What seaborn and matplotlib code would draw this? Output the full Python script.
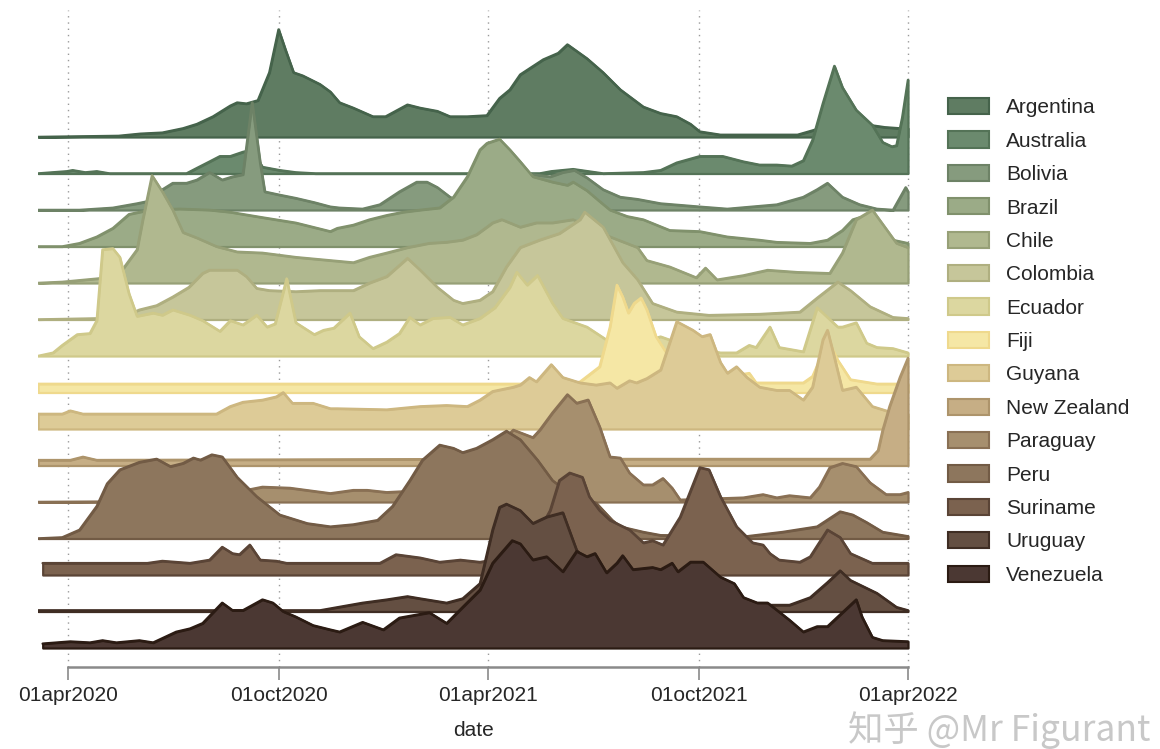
import numpy as np
import pandas as pd
import matplotlib
matplotlib.use("Agg")
import matplotlib.pyplot as plt
import matplotlib.dates as mdates
from matplotlib.patches import Patch
import seaborn as sns

# ---------------------------------------------------------------------------
# Smoothed daily new cases, each country scaled to its own peak (= 100)
# ---------------------------------------------------------------------------
countries = ["Argentina", "Australia", "Bolivia", "Brazil", "Chile", "Colombia",
             "Ecuador", "Fiji", "Guyana", "New Zealand", "Paraguay", "Peru",
             "Suriname", "Uruguay", "Venezuela"]

argentina_dates = ["2020-03-06", "2020-05-15", "2020-06-03", "2020-06-22", "2020-07-10", "2020-07-22",
                   "2020-08-05", "2020-08-20", "2020-08-26", "2020-09-03", "2020-09-13", "2020-09-23",
                   "2020-10-01", "2020-10-07", "2020-10-14", "2020-10-22", "2020-11-06", "2020-11-15",
                   "2020-11-23", "2020-12-05", "2020-12-22", "2021-01-02", "2021-01-21", "2021-02-01",
                   "2021-02-16", "2021-02-27", "2021-03-14", "2021-03-31", "2021-04-11", "2021-04-20",
                   "2021-04-29", "2021-05-19", "2021-06-01", "2021-06-09", "2021-06-26", "2021-07-10",
                   "2021-07-25", "2021-08-14", "2021-08-29", "2021-09-12", "2021-09-24", "2021-10-02",
                   "2021-10-20", "2021-12-26", "2022-01-08", "2022-01-23", "2022-02-10", "2022-02-27",
                   "2022-03-12", "2022-03-25", "2022-04-01"]
argentina_share = [0, 1, 3, 4, 8, 12, 19, 29, 32, 31, 34, 60, 100, 81, 60, 57, 49, 42, 32, 27, 19, 19,
                   30, 27, 24, 19, 19, 20, 36, 44, 58, 72, 78, 86, 73, 60, 44, 28, 22, 19, 12, 5, 2, 2,
                   6, 11, 13, 11, 9, 8, 8]

australia_dates = ["2020-03-06", "2020-03-31", "2020-04-05", "2020-04-16", "2020-04-26", "2020-05-07",
                   "2020-07-13", "2020-07-22", "2020-08-02", "2020-08-11", "2020-08-20", "2020-08-31",
                   "2020-09-08", "2020-09-17", "2020-10-02", "2020-10-16", "2020-11-02", "2021-05-16",
                   "2021-05-26", "2021-06-14", "2021-07-10", "2021-08-14", "2021-08-29", "2021-09-12",
                   "2021-10-02", "2021-10-22", "2021-11-09", "2021-11-23", "2021-12-08", "2021-12-21",
                   "2021-12-31", "2022-01-08", "2022-01-17", "2022-01-27", "2022-02-03", "2022-02-15",
                   "2022-03-01", "2022-03-10", "2022-03-18", "2022-03-22", "2022-03-27", "2022-04-01"]
australia_share = [0, 2, 3, 1, 2, 0, 0, 5, 11, 16, 16, 20, 22, 6, 3, 1, 0, 0, 2, 4, 0, 1, 3, 10, 16,
                   16, 11, 8, 8, 7, 12, 31, 65, 100, 80, 59, 45, 29, 25, 26, 52, 87]

bolivia_dates = ["2020-03-06", "2020-04-11", "2020-05-10", "2020-05-31", "2020-06-09", "2020-06-22",
                 "2020-07-01", "2020-07-13", "2020-07-22", "2020-08-02", "2020-08-13", "2020-08-22",
                 "2020-08-31", "2020-09-08", "2020-09-15", "2020-09-19", "2020-10-02", "2020-10-16",
                 "2020-11-01", "2020-11-15", "2020-11-23", "2020-12-13", "2020-12-28", "2021-01-14",
                 "2021-01-29", "2021-02-07", "2021-02-16", "2021-02-27", "2021-03-08", "2021-03-25",
                 "2021-04-11", "2021-04-29", "2021-05-10", "2021-05-25", "2021-06-05", "2021-06-15",
                 "2021-06-26", "2021-07-10", "2021-07-25", "2021-08-09", "2021-08-29", "2021-10-02",
                 "2021-10-26", "2021-12-08", "2021-12-31", "2022-01-12", "2022-01-21", "2022-02-03",
                 "2022-02-18", "2022-03-05", "2022-03-19", "2022-03-30", "2022-04-01"]
bolivia_share = [0, 0, 2, 6, 8, 19, 25, 25, 28, 35, 28, 31, 33, 100, 44, 17, 14, 11, 7, 3, 2, 1, 5, 17,
                 26, 26, 21, 12, 7, 8, 12, 25, 33, 31, 35, 37, 30, 19, 12, 10, 6, 3, 1, 5, 12, 19, 25,
                 12, 5, 1, 0, 21, 17]

brazil_dates = ["2020-03-06", "2020-03-27", "2020-04-11", "2020-04-26", "2020-05-10", "2020-05-24",
                "2020-06-11", "2020-07-07", "2020-08-02", "2020-08-20", "2020-09-17", "2020-10-16",
                "2020-11-15", "2020-11-21", "2020-12-05", "2020-12-19", "2021-01-03", "2021-01-17",
                "2021-02-01", "2021-02-18", "2021-03-02", "2021-03-14", "2021-03-25", "2021-03-31",
                "2021-04-11", "2021-04-20", "2021-04-29", "2021-05-10", "2021-05-27", "2021-06-09",
                "2021-06-14", "2021-06-26", "2021-07-07", "2021-07-16", "2021-07-31", "2021-08-14",
                "2021-09-06", "2021-10-02", "2021-10-26", "2021-11-23", "2021-12-08", "2022-01-06",
                "2022-01-21", "2022-02-03", "2022-02-12", "2022-02-18", "2022-02-27", "2022-03-08",
                "2022-03-19", "2022-04-01"]
brazil_share = [0, 0, 3, 9, 17, 30, 34, 35, 34, 32, 27, 22, 14, 17, 20, 25, 29, 32, 34, 36, 46, 65, 90,
                96, 100, 90, 79, 65, 60, 57, 60, 52, 42, 34, 28, 25, 15, 14, 9, 6, 4, 3, 6, 15, 25, 27,
                20, 11, 6, 3]

chile_dates = ["2020-03-06", "2020-03-27", "2020-04-26", "2020-05-13", "2020-05-18", "2020-05-31",
               "2020-06-05", "2020-06-13", "2020-06-22", "2020-07-01", "2020-07-10", "2020-07-22",
               "2020-08-08", "2020-08-26", "2020-09-17", "2020-10-16", "2020-11-15", "2020-12-05",
               "2020-12-19", "2021-01-03", "2021-01-21", "2021-02-09", "2021-02-24", "2021-03-10",
               "2021-03-22", "2021-03-31", "2021-04-05", "2021-04-13", "2021-04-29", "2021-05-13",
               "2021-05-27", "2021-06-14", "2021-06-28", "2021-07-16", "2021-08-09", "2021-08-17",
               "2021-09-06", "2021-09-29", "2021-10-07", "2021-10-17", "2021-11-09", "2021-11-30",
               "2021-12-26", "2022-01-23", "2022-02-03", "2022-02-15", "2022-03-01", "2022-03-22",
               "2022-04-01"]
chile_share = [0, 1, 4, 6, 12, 31, 59, 100, 85, 68, 47, 42, 34, 29, 28, 24, 21, 19, 24, 28, 33, 37, 38,
               40, 45, 52, 56, 59, 52, 56, 56, 59, 52, 43, 33, 21, 15, 5, 14, 3, 7, 12, 10, 9, 28, 59,
               68, 37, 33]

colombia_dates = ["2020-03-06", "2020-04-26", "2020-05-22", "2020-06-02", "2020-06-17", "2020-07-01",
                  "2020-07-15", "2020-07-27", "2020-08-02", "2020-08-26", "2020-09-03", "2020-09-12",
                  "2020-09-23", "2020-10-16", "2020-11-06", "2020-12-05", "2020-12-19", "2021-01-03",
                  "2021-01-21", "2021-02-01", "2021-02-16", "2021-03-02", "2021-03-10", "2021-03-25",
                  "2021-04-05", "2021-04-17", "2021-04-29", "2021-05-16", "2021-06-02", "2021-06-20",
                  "2021-06-24", "2021-07-10", "2021-07-27", "2021-08-09", "2021-08-22", "2021-09-12",
                  "2021-10-10", "2021-11-23", "2021-12-28", "2022-01-12", "2022-01-30", "2022-02-10",
                  "2022-02-27", "2022-03-19", "2022-04-01"]
colombia_share = [0, 1, 4, 9, 13, 21, 30, 43, 46, 46, 40, 29, 27, 26, 27, 27, 34, 40, 57, 46, 30, 18,
                  15, 18, 26, 49, 67, 74, 80, 93, 100, 86, 53, 37, 15, 7, 4, 5, 7, 20, 35, 27, 12, 2, 1]

ecuador_dates = ["2020-03-06", "2020-03-19", "2020-03-27", "2020-04-09", "2020-04-20", "2020-04-26",
                 "2020-05-01", "2020-05-10", "2020-05-16", "2020-05-24", "2020-05-31", "2020-06-14",
                 "2020-06-22", "2020-07-01", "2020-07-16", "2020-07-27", "2020-08-11", "2020-08-20",
                 "2020-08-31", "2020-09-12", "2020-09-21", "2020-09-28", "2020-10-08", "2020-10-16",
                 "2020-11-01", "2020-11-09", "2020-11-18", "2020-12-02", "2020-12-10", "2020-12-22",
                 "2021-01-03", "2021-01-14", "2021-01-23", "2021-02-01", "2021-02-12", "2021-02-27",
                 "2021-03-10", "2021-03-25", "2021-04-07", "2021-04-20", "2021-04-26", "2021-05-05",
                 "2021-05-14", "2021-05-27", "2021-06-05", "2021-06-26", "2021-07-13", "2021-08-10",
                 "2021-08-29", "2021-09-24", "2021-10-20", "2021-11-03", "2021-11-14", "2021-11-20",
                 "2021-12-02", "2021-12-10", "2021-12-31", "2022-01-12", "2022-01-30", "2022-02-03",
                 "2022-02-15", "2022-02-24", "2022-03-05", "2022-03-19", "2022-04-01"]
ecuador_share = [0, 3, 10, 20, 21, 33, 99, 100, 92, 58, 37, 40, 38, 43, 38, 33, 23, 33, 29, 38, 27, 30,
                 72, 31, 20, 24, 26, 40, 18, 7, 13, 21, 36, 29, 35, 36, 29, 35, 45, 64, 78, 66, 75, 49,
                 35, 27, 15, 12, 18, 8, 3, 3, 10, 8, 27, 8, 4, 45, 27, 27, 31, 12, 8, 7, 3]

fiji_dates = ["2020-03-06", "2021-06-11", "2021-06-20", "2021-07-07", "2021-07-16", "2021-07-22",
              "2021-07-27", "2021-08-01", "2021-08-06", "2021-08-12", "2021-08-17", "2021-08-25",
              "2021-09-03", "2021-09-12", "2021-10-10", "2021-11-14", "2021-11-20", "2021-12-31",
              "2022-01-08", "2022-01-17", "2022-01-21", "2022-01-30", "2022-02-10", "2022-03-05",
              "2022-04-01"]
fiji_share = [8, 8, 10, 24, 61, 100, 89, 74, 83, 88, 77, 52, 37, 24, 12, 18, 9, 9, 15, 37, 50, 30, 12,
              8, 8]

guyana_dates = ["2020-03-06", "2020-03-27", "2020-04-03", "2020-04-14", "2020-08-08", "2020-08-20",
                "2020-08-31", "2020-09-17", "2020-09-29", "2020-10-05", "2020-10-13", "2020-10-31",
                "2020-11-15", "2020-11-21", "2021-01-03", "2021-02-01", "2021-02-24", "2021-03-14",
                "2021-03-25", "2021-04-05", "2021-04-23", "2021-04-29", "2021-05-07", "2021-05-13",
                "2021-05-26", "2021-06-05", "2021-06-20", "2021-07-04", "2021-07-16", "2021-07-22",
                "2021-08-02", "2021-08-08", "2021-08-17", "2021-08-29", "2021-09-12", "2021-09-26",
                "2021-10-04", "2021-10-11", "2021-10-20", "2021-10-26", "2021-11-03", "2021-11-12",
                "2021-11-23", "2021-12-08", "2021-12-19", "2021-12-31", "2022-01-08", "2022-01-17",
                "2022-01-21", "2022-01-26", "2022-02-03", "2022-02-15", "2022-03-01", "2022-03-16",
                "2022-04-01"]
guyana_share = [14, 14, 17, 14, 14, 21, 25, 27, 30, 34, 24, 24, 19, 19, 18, 21, 22, 21, 27, 35, 39, 41,
                48, 44, 60, 48, 43, 41, 43, 38, 45, 43, 47, 55, 100, 92, 86, 88, 62, 52, 58, 48, 39, 36,
                36, 27, 39, 83, 92, 71, 36, 39, 21, 16, 14]

new_zealand_dates = ["2020-03-06", "2020-04-03", "2020-04-14", "2020-04-26", "2021-04-11", "2022-02-27",
                     "2022-03-06", "2022-03-10", "2022-03-16", "2022-03-25", "2022-04-01"]
new_zealand_share = [5, 5, 8, 5, 6, 6, 14, 33, 55, 82, 100]

paraguay_dates = ["2020-03-06", "2020-08-20", "2020-09-03", "2020-09-17", "2020-10-11", "2020-11-15",
                  "2020-12-05", "2020-12-17", "2021-01-03", "2021-02-27", "2021-03-25", "2021-04-11",
                  "2021-04-23", "2021-05-10", "2021-05-16", "2021-05-27", "2021-06-09", "2021-06-17",
                  "2021-06-27", "2021-07-07", "2021-07-16", "2021-07-25", "2021-08-02", "2021-08-14",
                  "2021-08-22", "2021-08-31", "2021-09-08", "2021-09-15", "2021-11-09", "2021-11-26",
                  "2021-12-08", "2021-12-19", "2022-01-06", "2022-01-14", "2022-01-23", "2022-02-03",
                  "2022-02-15", "2022-02-27", "2022-03-13", "2022-03-25", "2022-04-01"]
paraguay_share = [0, 1, 11, 14, 13, 8, 11, 11, 9, 12, 30, 55, 67, 60, 67, 83, 100, 92, 95, 70, 42, 41,
                  27, 16, 16, 22, 13, 2, 4, 7, 4, 6, 4, 14, 32, 36, 33, 18, 7, 7, 9]

peru_dates = ["2020-03-06", "2020-03-27", "2020-04-11", "2020-04-26", "2020-05-05", "2020-05-16",
              "2020-06-02", "2020-06-17", "2020-06-29", "2020-07-10", "2020-07-19", "2020-07-25",
              "2020-08-04", "2020-08-13", "2020-08-26", "2020-09-12", "2020-10-02", "2020-10-26",
              "2020-11-15", "2020-12-05", "2020-12-26", "2021-01-08", "2021-01-23", "2021-02-03",
              "2021-02-18", "2021-03-02", "2021-03-10", "2021-03-22", "2021-04-05", "2021-04-17",
              "2021-04-29", "2021-05-14", "2021-05-27", "2021-06-11", "2021-07-04", "2021-07-18",
              "2021-07-25", "2021-08-14", "2021-08-29", "2021-11-12", "2021-12-13", "2022-01-12",
              "2022-02-01", "2022-02-12", "2022-02-24", "2022-03-10", "2022-04-01"]
peru_share = [0, 1, 8, 30, 51, 64, 71, 74, 67, 70, 75, 73, 78, 76, 57, 39, 22, 14, 11, 13, 17, 30, 54,
              73, 87, 84, 80, 84, 92, 100, 92, 73, 54, 42, 33, 17, 11, 6, 3, 2, 6, 11, 25, 22, 15, 6, 2]

suriname_dates = ["2020-03-10", "2020-06-09", "2020-06-22", "2020-07-16", "2020-08-02", "2020-08-13",
                  "2020-08-22", "2020-08-28", "2020-09-06", "2020-09-15", "2020-09-29", "2020-10-08",
                  "2020-12-28", "2021-01-11", "2021-02-01", "2021-02-18", "2021-03-08", "2021-03-25",
                  "2021-04-11", "2021-05-07", "2021-05-25", "2021-06-02", "2021-06-11", "2021-06-22",
                  "2021-06-28", "2021-07-07", "2021-07-16", "2021-08-02", "2021-08-14", "2021-08-22",
                  "2021-08-31", "2021-09-15", "2021-10-02", "2021-10-10", "2021-10-20", "2021-11-03",
                  "2021-11-17", "2021-11-26", "2021-12-02", "2021-12-10", "2021-12-28", "2022-01-06",
                  "2022-01-21", "2022-02-01", "2022-02-10", "2022-03-01", "2022-04-01"]
suriname_share = [11, 11, 13, 11, 14, 26, 20, 19, 28, 14, 13, 11, 11, 19, 16, 12, 14, 12, 15, 25, 60,
                  88, 95, 91, 73, 60, 51, 42, 30, 32, 28, 54, 100, 98, 73, 45, 30, 28, 20, 14, 12, 17,
                  42, 35, 20, 11, 11]

uruguay_dates = ["2020-03-06", "2020-11-06", "2020-12-13", "2021-01-03", "2021-01-21", "2021-02-01",
                 "2021-02-24", "2021-03-10", "2021-03-25", "2021-04-05", "2021-04-11", "2021-04-17",
                 "2021-04-29", "2021-05-10", "2021-05-22", "2021-06-05", "2021-06-17", "2021-06-22",
                 "2021-07-04", "2021-07-16", "2021-07-25", "2021-08-19", "2021-10-02", "2021-12-19",
                 "2022-01-06", "2022-01-21", "2022-02-01", "2022-02-10", "2022-03-05", "2022-03-22",
                 "2022-04-01"]
uruguay_share = [1, 1, 8, 11, 14, 12, 8, 12, 26, 76, 97, 100, 94, 82, 88, 92, 57, 51, 36, 23, 20, 10, 6,
                 6, 13, 27, 38, 29, 17, 4, 1]

venezuela_dates = ["2020-03-10", "2020-04-03", "2020-04-20", "2020-05-01", "2020-05-13", "2020-06-02",
                   "2020-06-14", "2020-07-04", "2020-07-16", "2020-07-27", "2020-08-13", "2020-08-22",
                   "2020-08-31", "2020-09-17", "2020-09-26", "2020-10-05", "2020-10-16", "2020-10-31",
                   "2020-11-15", "2020-11-23", "2020-12-13", "2020-12-31", "2021-01-14", "2021-02-09",
                   "2021-02-24", "2021-03-10", "2021-03-25", "2021-04-05", "2021-04-22", "2021-04-29",
                   "2021-05-10", "2021-05-22", "2021-06-05", "2021-06-17", "2021-06-26", "2021-07-03",
                   "2021-07-13", "2021-07-22", "2021-07-27", "2021-08-05", "2021-08-22", "2021-08-29",
                   "2021-09-08", "2021-09-13", "2021-09-24", "2021-10-05", "2021-10-20", "2021-11-01",
                   "2021-11-09", "2021-11-21", "2021-11-30", "2021-12-19", "2021-12-31", "2022-01-12",
                   "2022-01-21", "2022-02-03", "2022-02-15", "2022-02-20", "2022-03-01", "2022-03-10",
                   "2022-04-01"]
venezuela_share = [4, 6, 5, 7, 5, 7, 5, 15, 18, 23, 42, 35, 35, 45, 42, 34, 29, 21, 17, 15, 24, 17, 28,
                   33, 23, 38, 54, 79, 100, 97, 82, 85, 71, 90, 85, 88, 70, 79, 86, 73, 75, 73, 79, 71,
                   80, 80, 66, 60, 47, 42, 42, 26, 15, 20, 20, 33, 45, 29, 10, 7, 6]

series_dates = [argentina_dates, australia_dates, bolivia_dates, brazil_dates, chile_dates,
                colombia_dates, ecuador_dates, fiji_dates, guyana_dates, new_zealand_dates,
                paraguay_dates, peru_dates, suriname_dates, uruguay_dates, venezuela_dates]
series_share = [argentina_share, australia_share, bolivia_share, brazil_share, chile_share,
                colombia_share, ecuador_share, fiji_share, guyana_share, new_zealand_share,
                paraguay_share, peru_share, suriname_share, uruguay_share, venezuela_share]

tick_dates = ["2020-04-01", "2020-10-01", "2021-04-01", "2021-10-01", "2022-04-01"]
tick_labels = ["01apr2020", "01oct2020", "01apr2021", "01oct2021", "01apr2022"]

fill_colors = ["#5f7c62", "#6b8a6e", "#869b7e", "#9bab87", "#b0b88f", "#c6c69a", "#dcd7a0",
               "#f5e7a5", "#ddcb97", "#c6ae85", "#a68f6e", "#8d765d", "#7b624f", "#644f42",
               "#4b3833"]
edge_colors = ["#45634b", "#547357", "#6d8266", "#80916c", "#97a077", "#afaf80", "#cfc98a",
               "#efd98d", "#cdb780", "#ad946b", "#897054", "#725b45", "#5a4436", "#3f2d23",
               "#2b1b13"]

# ---------------------------------------------------------------------------
# Long-form table
# ---------------------------------------------------------------------------
frames = []
for name, d, s in zip(countries, series_dates, series_share):
    frames.append(pd.DataFrame({"country": name, "date": pd.to_datetime(d), "share": s}))
data = pd.concat(frames, ignore_index=True)

# ---------------------------------------------------------------------------
# Figure
# ---------------------------------------------------------------------------
sns.set_theme(style="white")
plt.rcParams["font.family"] = ["Liberation Sans", "DejaVu Sans"]

W, H = 1160, 749
fig = plt.figure(figsize=(W / 100, H / 100), dpi=100)
ax = fig.add_axes([38 / W, 1 - 667 / H, (910 - 38) / W, (667 - 10) / H])

spacing = 1.0
ridge_height = 2.945           # peak height in units of ridge spacing
n = len(countries)

for i, name in enumerate(countries):
    sub = data[data["country"] == name].sort_values("date")
    base = (n - 1 - i) * spacing
    top = base + sub["share"].to_numpy() / 100.0 * ridge_height
    z = 2 + 2 * i
    ax.fill_between(sub["date"], base, top, facecolor=fill_colors[i],
                    edgecolor=edge_colors[i], linewidth=1.6, zorder=z)
    sns.lineplot(x=sub["date"].to_numpy(), y=top, ax=ax, color=edge_colors[i],
                 linewidth=1.8, estimator=None, sort=False, zorder=z + 1, legend=False)

# x range: 01apr2020 .. 01apr2022 spans 840 px
px_per_day = 840 / 730
x0 = mdates.date2num(pd.Timestamp("2020-04-01")) - 30 / px_per_day
x1 = x0 + 872 / px_per_day
ax.set_xlim(x0, x1)
ax.set_ylim(-19 / 36.5, (n - 1) + 127 / 36.5)

tick_pos = mdates.date2num(pd.to_datetime(tick_dates))
for t in tick_pos:
    ax.axvline(t, color="#9a9a9a", linestyle=(0, (1, 3.5)), linewidth=1.0, zorder=0)

tick_font = ["Liberation Sans Narrow", "Liberation Sans", "DejaVu Sans"]
ax.set_xticks(tick_pos)
ax.set_xticklabels(tick_labels, fontsize=15, family=tick_font)
ax.set_yticks([])
ax.tick_params(axis="x", direction="out", length=9.4, width=1.2, color="#8a8a8a",
               pad=4.5, bottom=True)
ax.set_xlabel("date", fontsize=15, labelpad=11, family=tick_font)
for side in ("top", "right", "left"):
    ax.spines[side].set_visible(False)
ax.spines["bottom"].set_bounds(tick_pos[0], tick_pos[-1])
ax.spines["bottom"].set_color("#8a8a8a")
ax.spines["bottom"].set_linewidth(1.8)
ax.grid(False)

handles = [Patch(facecolor=f, edgecolor=e, linewidth=1.5)
           for f, e in zip(fill_colors, edge_colors)]
fig.legend(handles, countries, loc="upper left",
           bbox_to_anchor=(948 / W, 1 - 98 / H), frameon=False, fontsize=15,
           handlelength=1.97, handleheight=0.82, handletextpad=0.82,
           labelspacing=0.675, borderpad=0, borderaxespad=0)

fig.text(848 / W, 1 - 730 / H, "知乎 @Mr Figurant", fontsize=25.5, color="#c8c8c8",
         ha="left", va="center", family=["Noto Sans CJK SC", "DejaVu Sans"])

fig.savefig("out.png", dpi=100)
